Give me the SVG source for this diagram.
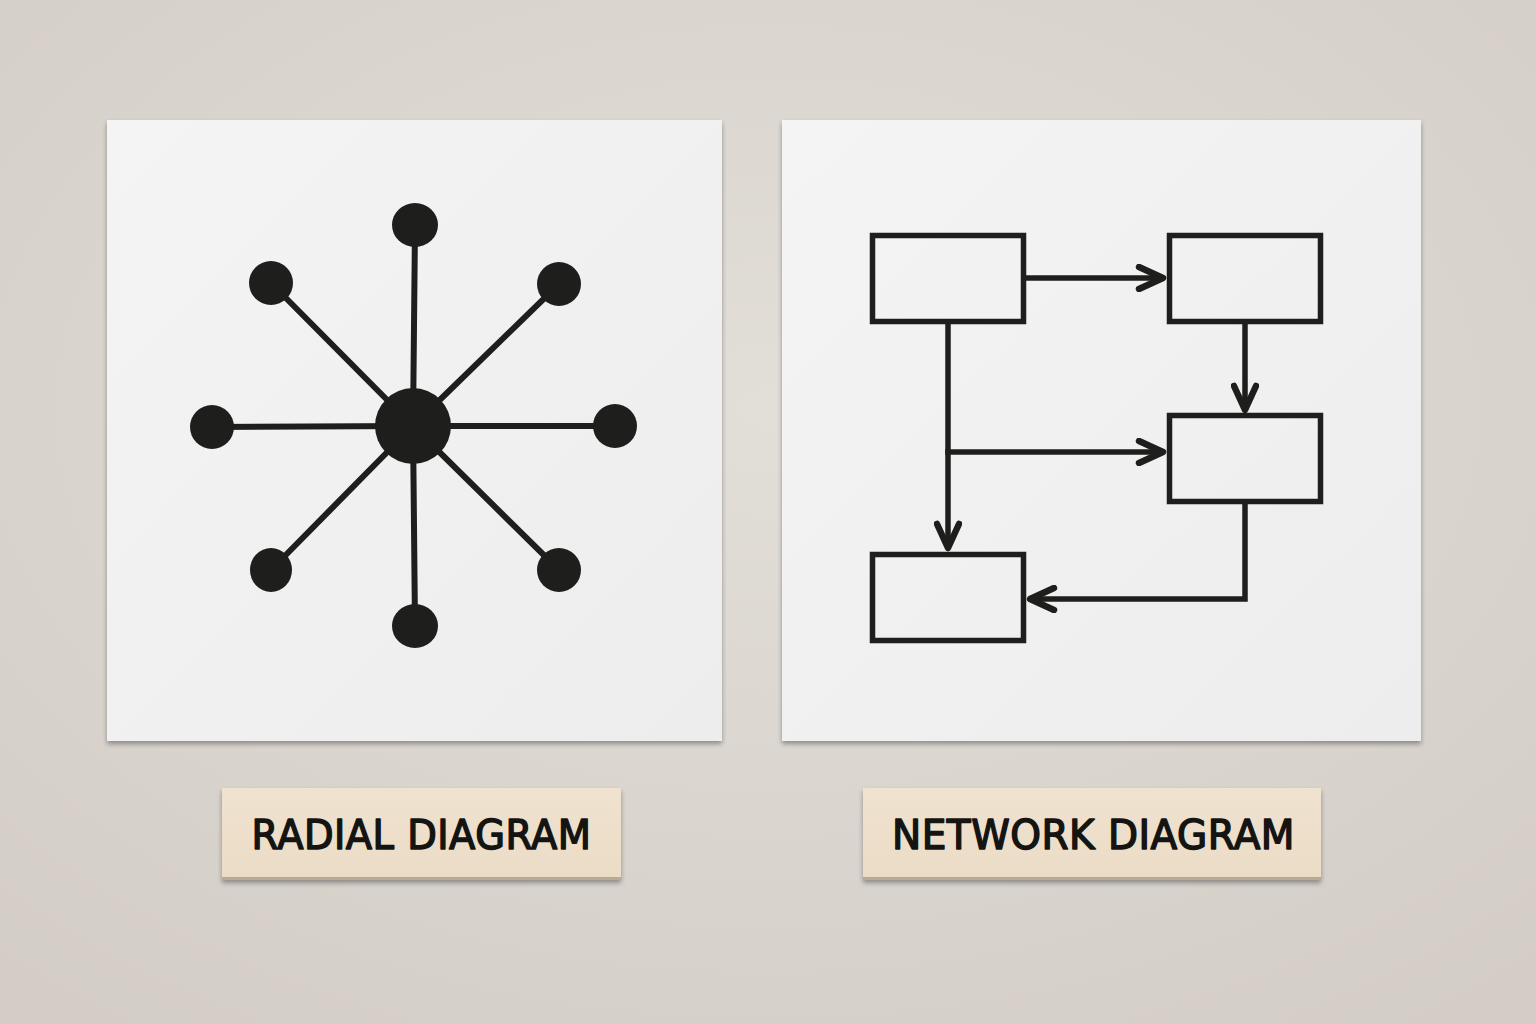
<svg xmlns="http://www.w3.org/2000/svg" width="1536" height="1024" viewBox="0 0 1536 1024">
  <defs>
    <radialGradient id="bg" cx="50%" cy="40%" r="75%">
      <stop offset="0" stop-color="#e2ded8"/>
      <stop offset="1" stop-color="#d3cdc6"/>
    </radialGradient>
    <linearGradient id="paper" x1="0" y1="0" x2="1" y2="1">
      <stop offset="0" stop-color="#f4f4f4"/>
      <stop offset="1" stop-color="#ededee"/>
    </linearGradient>
    <linearGradient id="tag" x1="0" y1="0" x2="0" y2="1">
      <stop offset="0" stop-color="#efe2cf"/>
      <stop offset="1" stop-color="#ebdcc6"/>
    </linearGradient>
    <filter id="shadow" x="-5%" y="-5%" width="110%" height="115%">
      <feGaussianBlur in="SourceAlpha" stdDeviation="2.5"/>
      <feOffset dx="0" dy="3" result="b"/>
      <feComponentTransfer><feFuncA type="linear" slope="0.35"/></feComponentTransfer>
      <feMerge><feMergeNode/><feMergeNode in="SourceGraphic"/></feMerge>
    </filter>
    <marker id="arrow" viewBox="0 0 32 28" markerWidth="32" markerHeight="28" refX="28" refY="14" orient="auto" markerUnits="userSpaceOnUse">
      <path d="M4 3 L28 14 L4 25" fill="none" stroke="#1e1e1c" stroke-width="6.5" stroke-linecap="round" stroke-linejoin="round"/>
    </marker>
    <style>
      .spoke { stroke: #1e1e1c; stroke-width: 6; stroke-linecap: round; }
      .dot { fill: #1e1e1c; }
      .box { fill: none; stroke: #1e1e1c; stroke-width: 5.5; }
      .conn { fill: none; stroke: #1e1e1c; stroke-width: 5.5; stroke-linejoin: miter; }
      .label { font-family: "DejaVu Sans", "Liberation Sans", sans-serif; font-size: 40px; fill: #141412; stroke: #141412; stroke-width: 1.5; stroke-linejoin: round; letter-spacing: 0.5px; }
    </style>
  </defs>

  <rect width="1536" height="1024" fill="url(#bg)"/>

  <!-- Left panel: radial diagram -->
  <g id="panel-radial">
    <rect x="107" y="120" width="615" height="621" fill="url(#paper)" filter="url(#shadow)"/>
    <g id="radial-spokes">
      <line class="spoke" x1="413" y1="426" x2="415" y2="226"/>
      <line class="spoke" x1="413" y1="426" x2="415" y2="626"/>
      <line class="spoke" x1="413" y1="426" x2="212" y2="427"/>
      <line class="spoke" x1="413" y1="426" x2="615" y2="426"/>
      <line class="spoke" x1="413" y1="426" x2="271" y2="283"/>
      <line class="spoke" x1="413" y1="426" x2="559" y2="284"/>
      <line class="spoke" x1="413" y1="426" x2="271" y2="570"/>
      <line class="spoke" x1="413" y1="426" x2="559" y2="570"/>
    </g>
    <g id="hub"><circle class="dot" cx="413" cy="426" r="38"/></g>
    <g id="leaf-n"><ellipse class="dot" cx="415" cy="225" rx="23" ry="22"/></g>
    <g id="leaf-ne"><ellipse class="dot" cx="559" cy="284" rx="22" ry="22"/></g>
    <g id="leaf-e"><ellipse class="dot" cx="615" cy="426" rx="22" ry="22"/></g>
    <g id="leaf-se"><ellipse class="dot" cx="559" cy="570" rx="22" ry="22"/></g>
    <g id="leaf-s"><ellipse class="dot" cx="415" cy="626" rx="23" ry="22"/></g>
    <g id="leaf-sw"><ellipse class="dot" cx="271" cy="570" rx="21" ry="22"/></g>
    <g id="leaf-w"><ellipse class="dot" cx="212" cy="427" rx="22" ry="22"/></g>
    <g id="leaf-nw"><ellipse class="dot" cx="271" cy="283" rx="22" ry="22"/></g>
  </g>

  <!-- Right panel: network diagram -->
  <g id="panel-network">
    <rect x="782" y="120" width="639" height="621" fill="url(#paper)" filter="url(#shadow)"/>
    <g id="net-connectors">
      <path class="conn" d="M1026 278 L1163 278" marker-end="url(#arrow)"/>
      <path class="conn" d="M1245 324 L1245 410" marker-end="url(#arrow)"/>
      <path class="conn" d="M948 324 L948 548" marker-end="url(#arrow)"/>
      <path class="conn" d="M945.25 452 L1163 452" marker-end="url(#arrow)"/>
      <path class="conn" d="M1245 504 L1245 599 L1030 599" marker-end="url(#arrow)"/>
    </g>
    <g id="box-a"><rect class="box" x="872.5" y="235.5" width="151" height="86"/></g>
    <g id="box-b"><rect class="box" x="1169.5" y="235.5" width="151" height="86"/></g>
    <g id="box-c"><rect class="box" x="1169.5" y="415.5" width="151" height="86"/></g>
    <g id="box-d"><rect class="box" x="872.5" y="554.5" width="151" height="86"/></g>
  </g>

  <!-- Labels -->
  <g id="label-radial">
    <rect x="222" y="788" width="399" height="92" fill="url(#tag)" filter="url(#shadow)"/>
    <rect x="222" y="877" width="399" height="3" fill="#b9aa94"/>
    <text class="label" x="421.5" y="849" text-anchor="middle" textLength="340" lengthAdjust="spacingAndGlyphs">RADIAL DIAGRAM</text>
  </g>
  <g id="label-network">
    <rect x="863" y="788" width="458" height="92" fill="url(#tag)" filter="url(#shadow)"/>
    <rect x="863" y="877" width="458" height="3" fill="#b9aa94"/>
    <text class="label" x="1093.5" y="849" text-anchor="middle" textLength="403" lengthAdjust="spacingAndGlyphs">NETWORK DIAGRAM</text>
  </g>
</svg>
